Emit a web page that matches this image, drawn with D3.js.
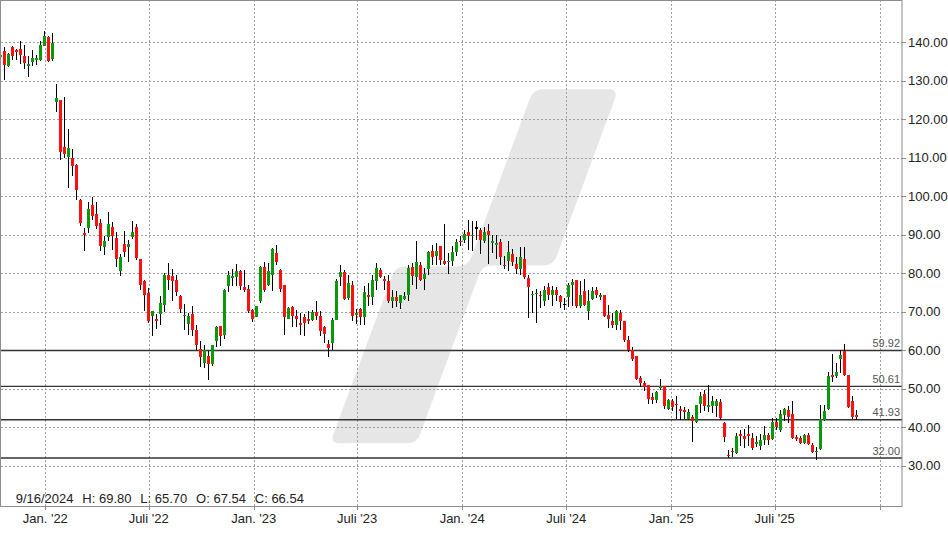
<!DOCTYPE html>
<html><head><meta charset="utf-8">
<script src="https://cdn.jsdelivr.net/npm/d3@7"></script>
<style>
html,body{margin:0;padding:0;background:#fff;}
svg{display:block;font-family:"Liberation Sans",Arial,sans-serif;}
</style></head><body>
<svg id="chart" width="948" height="534"></svg>
<script>
// ---- data ----
const firstWeek = "2021-10-11";
const open = [
136.1,137.64,133.74,138.86,137.9,138.34,136.52,133.92,134.96,135.48,
135.3,139.12,141.46,135.74,124.39,124.91,112.88,110.28,110.02,108.2,
99.11,90.46,91.65,97.81,95.47,93.06,86.9,89.32,92.1,89.24,
80.66,87.68,86.72,89.5,92.1,83.78,77.89,74.95,68.79,68.2,
69.31,71.65,79.62,79.36,78.33,73.99,68.79,66.89,69.49,65.34,
60.4,56.68,58.58,56.5,62.3,66.37,63.86,76.58,78.66,79.03,
80.48,76.32,75.99,70.35,68.71,72.87,81.62,76.85,79.44,85.26,
80.92,77.03,68.12,71.23,68.97,67.15,68.71,68.2,67.93,70.01,
68.97,65.98,61.7,61.78,67.93,78.92,80.22,73.57,77.03,69.23,
70.71,68.58,74.25,73.73,78.07,80.92,78.59,77.89,72.87,73.73,
72.27,73.39,74.43,81.52,78.92,82.22,78.51,81.07,85.86,84.38,
86.98,83.26,82.82,83.08,85.42,88.46,88.72,90.62,89.58,91.9,
91.32,88.28,91.06,87.86,87.34,88.02,82.22,83.08,85.08,82.48,
81.18,83.78,78.85,74.25,74.51,74.43,72.69,76.43,74.43,75.55,
74.17,72.1,73.73,76.85,78.15,71.39,75.29,70.09,73.39,75.73,
73.73,74.43,69.23,67.54,66.45,69.67,67.49,62.74,60.14,58.58,
52.79,51.49,51.05,47.75,47.15,50.19,50.79,44.81,46.71,46.1,
44.81,44.55,42.21,42.55,41.36,46.1,48.63,45.15,45.41,45.41,
46.54,41.1,32.86,33.9,33.3,38.32,37.6,38.32,37.2,35.64,
35.0,36.75,38.06,36.93,41.25,39.35,43.25,44.55,43.43,37.4,
37.1,35.98,38.06,35.46,33.46,34.34,41.95,44.73,53.64,53.2,
57.8,59.88,53.64,46.89,43.07];
const high = [
137.56,138.68,137.22,139.12,138.26,140.42,139.2,136.44,137.9,136.78,
140.24,143.02,141.72,142.5,129.25,125.09,125.87,117.56,112.36,108.46,
99.2,91.83,98.41,99.71,98.59,94.1,89.76,95.81,93.21,90.8,
85.08,91.06,88.72,93.65,92.88,83.78,78.33,76.17,70.27,69.42,
73.99,80.06,82.66,81.18,79.62,74.43,72.09,69.67,71.39,66.63,
62.35,61.44,59.7,61.44,66.37,66.4,75.99,80.48,81.1,82.48,
80.92,80.92,77.03,70.71,71.57,81.78,82.82,82.66,86.64,87.24,
81.18,77.03,71.23,71.57,70.35,69.67,69.42,70.09,70.35,72.69,
70.09,66.37,62.74,68.38,78.59,82.22,80.92,79.62,77.89,70.71,
70.97,76.58,77.47,79.62,82.66,81.37,79.18,79.62,75.55,75.29,
74.43,75.03,82.04,82.66,88.46,82.82,81.37,85.68,87.42,87.86,
87.16,92.88,85.26,86.98,88.9,89.58,91.32,93.91,93.47,93.47,
91.76,92.02,92.88,90.02,90.02,88.9,84.38,88.28,86.3,84.22,
86.72,86.72,79.62,75.29,75.91,75.47,76.76,77.47,76.76,76.43,
74.43,73.57,77.47,78.59,78.33,77.89,78.51,75.73,76.43,76.43,
74.87,74.43,71.83,69.8,70.53,70.53,67.49,63.6,60.84,58.58,
53.2,51.9,51.05,48.89,49.31,52.6,50.79,47.33,47.41,48.02,
45.41,45.15,44.81,43.25,45.67,49.05,49.74,51.05,48.02,47.33,
47.33,41.25,34.16,34.6,38.49,39.35,39.52,40.65,38.49,37.6,
38.32,40.39,38.58,42.3,42.3,44.55,45.0,45.59,46.89,38.06,
37.6,38.32,38.49,35.9,34.76,45.85,45.85,54.24,59.1,56.68,
60.14,61.7,53.64,48.19,44.37];
const low = [
135.48,130.29,133.48,135.3,135.48,134.44,133.14,130.88,133.74,134.18,
135.22,139.0,134.96,135.22,121.79,109.32,109.84,102.15,105.16,99.11,
92.36,85.68,90.46,93.91,91.58,85.68,84.82,88.28,86.12,81.52,
79.18,84.12,82.82,88.98,83.52,75.55,70.27,67.07,63.6,65.6,
66.45,69.83,75.73,72.87,73.99,69.67,65.34,63.86,63.78,60.14,
55.72,55.38,52.35,55.8,60.74,61.18,62.92,75.03,76.58,76.58,
75.55,75.03,69.67,67.23,68.54,72.27,75.03,76.58,75.29,82.22,
75.13,64.04,68.12,66.04,66.04,63.86,63.6,66.89,67.67,67.93,
63.6,61.88,58.19,59.96,67.93,76.58,73.13,73.13,67.49,66.81,
66.45,66.63,71.39,71.83,75.55,78.77,75.73,72.27,71.05,71.23,
70.71,73.13,72.69,77.03,75.88,78.07,75.73,79.62,82.22,82.22,
82.04,82.22,79.81,81.78,84.56,86.98,87.86,86.12,85.86,88.54,
85.0,87.86,82.4,85.26,83.7,82.22,81.1,80.48,81.78,79.89,
79.62,78.51,68.38,69.67,67.07,71.1,71.57,73.13,71.57,72.69,
70.97,70.53,71.23,71.57,70.97,70.97,71.39,67.75,73.13,73.57,
73.13,68.63,65.77,65.7,65.34,65.34,62.04,59.44,57.1,52.17,
50.35,49.31,46.1,46.03,46.29,49.57,44.73,44.37,44.11,42.21,
41.89,42.21,41.89,36.05,41.1,43.69,44.11,43.95,43.69,42.55,
41.89,36.05,32.0,32.26,33.12,35.0,34.6,35.0,34.16,34.86,
33.98,35.5,35.28,36.75,39.35,38.66,41.69,41.1,36.93,36.31,
35.72,35.72,35.38,33.3,31.56,34.16,41.51,44.55,51.64,52.79,
54.08,53.38,45.0,42.21,41.95];
const close = [
136.6,134.0,137.04,136.34,137.38,136.6,134.52,134.44,136.0,136.0,
139.2,141.72,135.22,139.72,125.61,111.58,110.88,112.62,107.76,101.53,
93.06,89.84,96.69,94.77,92.17,86.98,88.46,92.88,89.58,83.78,
84.22,85.6,87.68,90.8,84.04,76.85,74.43,67.49,70.27,67.67,
72.27,79.62,78.15,77.89,75.03,70.71,69.23,68.97,65.34,61.44,
58.19,60.14,56.5,61.26,65.93,63.6,75.73,79.44,79.18,80.48,
76.58,75.73,70.09,68.2,71.57,81.52,75.73,80.48,86.38,82.82,
75.99,68.53,70.97,68.79,68.2,66.63,67.07,67.49,70.01,68.97,
65.07,64.3,60.66,67.93,78.07,80.22,73.39,77.55,68.79,69.75,
68.63,75.03,73.73,78.33,81.37,78.92,77.89,72.69,73.73,72.87,
74.25,73.99,81.37,79.36,82.82,78.33,79.89,85.42,84.12,85.86,
83.34,82.4,83.26,85.52,88.02,88.02,90.28,89.76,90.02,91.9,
88.72,90.62,89.84,88.28,87.76,84.12,81.78,85.52,82.82,81.18,
84.22,79.03,76.32,74.69,74.95,74.0,75.73,74.43,75.73,74.25,
72.43,72.1,77.03,77.63,71.39,74.43,71.83,72.87,75.29,74.43,
74.43,68.79,68.2,66.54,70.09,67.49,62.74,60.14,57.72,52.53,
51.49,50.45,47.33,47.15,49.05,50.61,45.41,47.15,45.25,45.67,
44.29,43.85,43.95,41.51,45.67,48.0,45.41,45.67,46.89,46.89,
42.39,37.35,32.42,33.46,37.8,37.6,37.0,37.6,34.6,36.05,
36.75,38.06,36.75,41.43,40.0,43.51,44.73,42.6,37.27,36.93,
35.9,38.06,35.54,33.46,33.9,42.13,44.29,53.38,53.12,54.24,
58.66,53.64,45.33,42.6,42.55];
const yTicks = [30,40,50,60,70,80,90,100,110,120,130,140];
const xTickDates = ["2022-01-01","2022-07-01","2023-01-01","2023-07-01","2024-01-01","2024-07-01","2025-01-01","2025-07-01","2026-01-01"];
const xTickLabels = ["Jan. '22","Juli '22","Jan. '23","Juli '23","Jan. '24","Juli '24","Jan. '25","Juli '25",""];
const levels = [59.92, 50.61, 41.93, 32.00];
const infoIndex = 153;

// ---- layout ----
const svg = d3.select("#chart");
const P = {left:1, top:0, right:902, bottom:506};
const parse = d3.utcParse("%Y-%m-%d");
const x = d3.scaleUtc().domain([parse("2022-01-01"), parse("2026-01-01")]).range([45.3, 879.7]);
const y = d3.scaleLinear().domain([30,140]).range([465.7, 42.3]);
const start = parse(firstWeek);
const data = open.map((o,i)=>({
  week: d3.utcDay.offset(start, 7*i),
  mid: d3.utcHour.offset(d3.utcDay.offset(start, 7*i), 84),
  o, h: high[i], l: low[i], c: close[i]
}));

svg.append("rect").attr("width",948).attr("height",534).attr("fill","#fff");
svg.append("defs").append("clipPath").attr("id","clip")
  .append("rect").attr("x",P.left).attr("y",P.top).attr("width",P.right-P.left).attr("height",P.bottom-P.top);

// watermark
function roundedPath(pts, r){
  let d=""; const n=pts.length;
  for(let i=0;i<n;i++){
    const p0=pts[(i-1+n)%n], p1=pts[i], p2=pts[(i+1)%n];
    const l1=Math.hypot(p0[0]-p1[0],p0[1]-p1[1]), l2=Math.hypot(p2[0]-p1[0],p2[1]-p1[1]);
    const a=[p1[0]+(p0[0]-p1[0])/l1*r, p1[1]+(p0[1]-p1[1])/l1*r];
    const b=[p1[0]+(p2[0]-p1[0])/l2*r, p1[1]+(p2[1]-p1[1])/l2*r];
    d += (i===0?"M":"L")+a[0]+","+a[1]+"Q"+p1[0]+","+p1[1]+" "+b[0]+","+b[1];
  }
  return d+"Z";
}
const wm = [[533.3,89.3],[618.3,89.3],[553.3,265.5],[482.3,265.5],[416.7,443.3],[330,443.3],[395.6,266.5],[467.9,266.5]];
svg.append("path").attr("d", roundedPath(wm, 10)).attr("fill","#e6e6e6");

// grid
const grid = svg.append("g").attr("stroke","#a0a0a0").attr("stroke-dasharray","2,2").attr("shape-rendering","crispEdges");
grid.selectAll("line.h").data(yTicks).join("line")
  .attr("x1",P.left).attr("x2",P.right)
  .attr("y1",d=>Math.round(y(d))+0.5).attr("y2",d=>Math.round(y(d))+0.5);
grid.selectAll("line.v").data(xTickDates).join("line")
  .attr("y1",P.top).attr("y2",P.bottom)
  .attr("x1",d=>Math.round(x(parse(d)))+0.5).attr("x2",d=>Math.round(x(parse(d)))+0.5);

// level lines
const lv = svg.append("g");
lv.selectAll("line").data(levels).join("line")
  .attr("x1",P.left).attr("x2",P.right)
  .attr("y1",d=>y(d)).attr("y2",d=>y(d))
  .attr("stroke","#333").attr("stroke-width",1.4);

// candles
const cg = svg.append("g").attr("clip-path","url(#clip)").attr("shape-rendering","crispEdges");
const cx = d => Math.round(x(d.mid)) + 0.5;
cg.selectAll("line.w").data(data).join("line")
  .attr("x1",cx).attr("x2",cx)
  .attr("y1",d=>y(d.h)).attr("y2",d=>y(d.l))
  .attr("stroke","#000").attr("stroke-width",1);
cg.selectAll("rect.b").data(data).join("rect")
  .attr("x",d=>cx(d)-1.5).attr("width",3)
  .attr("y",d=>y(Math.max(d.o,d.c)))
  .attr("height",d=>Math.max(1.5, Math.abs(y(d.o)-y(d.c))))
  .attr("fill",d=>d.c>d.o?"#0a990a":(d.c<d.o?"#ff1010":"#000"));

// level labels
svg.append("g").selectAll("text").data(levels).join("text")
  .attr("x",900).attr("y",d=>y(d)-3.5).attr("text-anchor","end")
  .attr("font-size",11).attr("fill","#555").text(d=>d3.format(".2f")(d));

// frame
svg.append("rect").attr("x",0.5).attr("y",0.5).attr("width",P.right-0.5).attr("height",P.bottom)
  .attr("fill","none").attr("stroke","#8c8c8c").attr("stroke-width",1);

// right axis
const ra = svg.append("g");
ra.selectAll("line").data(yTicks).join("line")
  .attr("x1",P.right).attr("x2",P.right+4)
  .attr("y1",d=>Math.round(y(d))+0.5).attr("y2",d=>Math.round(y(d))+0.5)
  .attr("stroke","#8c8c8c");
ra.selectAll("text").data(yTicks).join("text")
  .attr("x",908).attr("y",d=>y(d)).attr("dy","0.36em")
  .attr("font-size",13).attr("fill","#222").text(d=>d3.format(".2f")(d));

// bottom axis
const ba = svg.append("g");
ba.selectAll("line").data(xTickDates).join("line")
  .attr("x1",d=>Math.round(x(parse(d)))+0.5).attr("x2",d=>Math.round(x(parse(d)))+0.5)
  .attr("y1",P.bottom).attr("y2",P.bottom+4).attr("stroke","#8c8c8c");
ba.selectAll("text").data(xTickDates).join("text")
  .attr("x",d=>x(parse(d))).attr("y",523).attr("text-anchor","middle")
  .attr("font-size",13).attr("fill","#222").text((d,i)=>xTickLabels[i]);

// info text
const info = data[infoIndex];
const fmtD = d3.utcFormat("%-m/%-d/%Y"), f2 = d3.format(".2f");
const parts = [fmtD(info.week), "H: "+f2(info.h), "L: "+f2(info.l), "O: "+f2(info.o), "C: "+f2(info.c)];
let cur = 15.7;
const ig = svg.append("g");
parts.forEach(p=>{
  const t = ig.append("text").attr("x",cur).attr("y",503).attr("font-size",13).attr("fill","#222").text(p);
  cur += t.node().getComputedTextLength() + 8.8;
});
</script>
</body></html>
